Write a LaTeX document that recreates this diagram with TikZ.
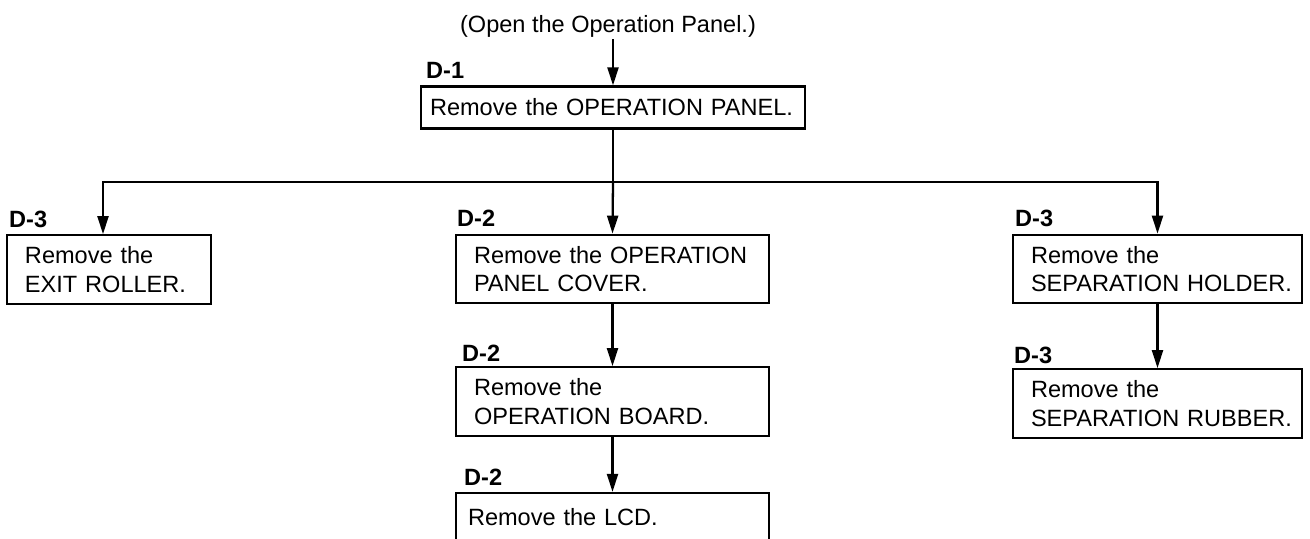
\documentclass[tikz,border=0pt]{standalone}
\usepackage{fontspec}
\setmainfont{Liberation Sans}
\usetikzlibrary{arrows.meta,positioning}

\begin{document}
\begin{tikzpicture}[
        every node/.style={font=\fontsize{13.4}{16.4}\selectfont},
        stepbox/.style={draw, line width=1.3pt, align=left, inner xsep=0.36cm, inner ysep=0pt, minimum height=1.37cm},
        onebox/.style={stepbox, minimum height=0.84cm},
        tag/.style={anchor=base west, inner sep=0pt, font=\fontsize{13.4}{16.4}\selectfont\bfseries},
        arr/.style={-{Triangle[length=0.36cm, width=0.22cm]}, line width=1.3pt}
    ]
        \useasboundingbox (0,0) rectangle (26.2,-10.76);
        \node[inner sep=0pt, anchor=base] (open) at (12.16, -0.64) {(Open the Operation Panel.)};
        \node[onebox, text width=7.32cm, inner xsep=0.18cm] (panel) at (12.26, -2.15) {Remove the OPERATION PANEL.};
        \node[stepbox, text width=3.36cm] (exit)   at (2.18, -5.39)  {Remove the\\ EXIT ROLLER.};
        \node[stepbox, text width=5.54cm] (cover)  at (12.25, -5.38) {Remove the OPERATION\\ \mbox{PANEL COVER.}};
        \node[stepbox, text width=5.54cm] (board)  at (12.25, -8.03) {Remove the\\ \mbox{OPERATION BOARD.}};
        \node[onebox, text width=5.78cm, inner xsep=0.24cm, minimum height=0.96cm] (lcd) at (12.25, -10.34) {Remove the LCD.};
        \node[stepbox, text width=5.06cm] (holder) at (23.15, -5.38) {Remove the\\ \mbox{SEPARATION HOLDER.}};
        \node[stepbox, text width=5.06cm] (rubber) at (23.15, -8.07) {Remove the\\ \mbox{SEPARATION RUBBER.}};
        % step numbers
        \node[tag] (tpanel)  at ([xshift=0.12cm, yshift=0.14cm] panel.north west)  {D-1};
        \node[tag] (texit)   at ([xshift=0.06cm, yshift=0.14cm] exit.north west)   {D-3};
        \node[tag] (tcover)  at ([xshift=0.04cm, yshift=0.14cm] cover.north west)  {D-2};
        \node[tag] (tboard)  at ([xshift=0.14cm, yshift=0.10cm] board.north west)  {D-2};
        \node[tag] (tlcd)    at ([xshift=0.18cm, yshift=0.12cm] lcd.north west)    {D-2};
        \node[tag] (tholder) at ([xshift=0.06cm, yshift=0.14cm] holder.north west) {D-3};
        \node[tag] (trubber) at ([xshift=0.04cm, yshift=0.10cm] rubber.north west) {D-3};
        \draw[arr] ([yshift=-0.04cm] open.south -| panel.north) -- (panel.north);
        \draw[line width=1.3pt] (panel.south) -- ++(0,-1.04) coordinate (bus);
        \draw[arr] (bus) -| ([xshift=-0.12cm] exit.north);
        \draw[arr] (bus) -| (holder.north);
        \draw[arr] (bus) -- (cover.north);
        \draw[arr] (cover.south) -- (board.north);
        \draw[arr] (board.south) -- (lcd.north);
        \draw[arr] (holder.south) -- (rubber.north);
    \end{tikzpicture}
\end{document}
